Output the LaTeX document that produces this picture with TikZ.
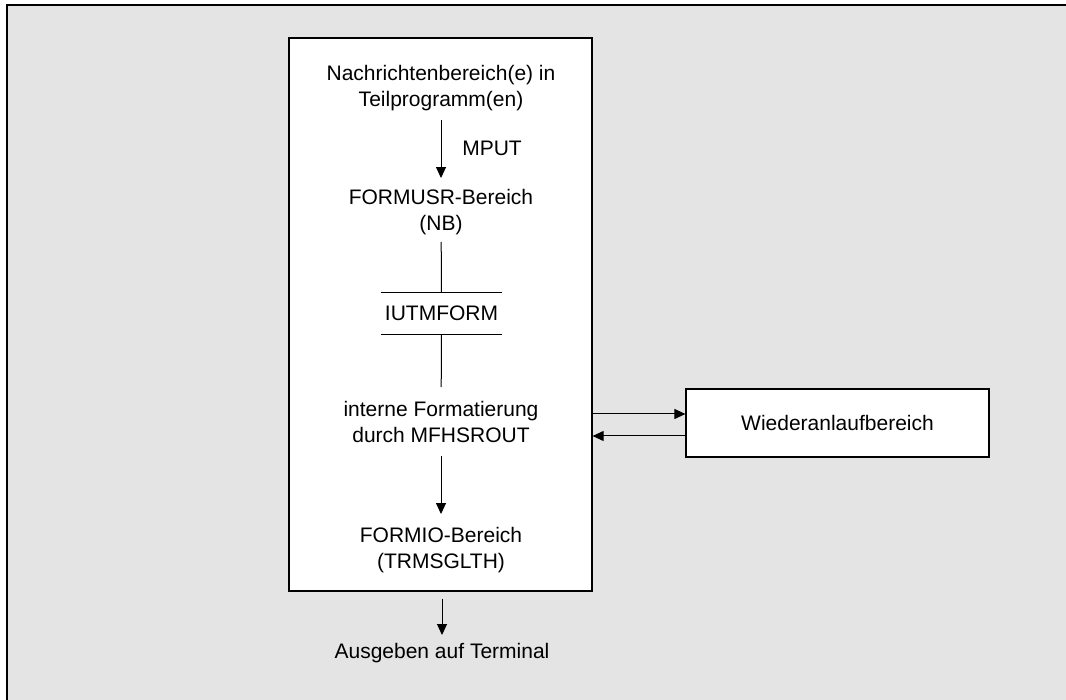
\documentclass[tikz,border=0pt]{standalone}
\usepackage{fontspec}
\setmainfont{Liberation Sans}
\usetikzlibrary{arrows.meta}
\definecolor{bggray}{HTML}{E4E4E4}
\begin{document}
\begin{tikzpicture}[x=1pt,y=-1pt,
  txt/.style={inner sep=0pt, align=center, font=\fontsize{21}{26}\selectfont},
  boxed/.style={draw=black, fill=white, line width=1.2pt, inner sep=0pt},
  arr/.style={line width=1pt, -{Triangle[length=11pt,width=10pt]}},
  plain/.style={line width=1pt}]
\useasboundingbox (0,0) rectangle (1066,700);
\fill[bggray] (7,5) rectangle (1066,700);
\draw[line width=2pt] (7,700) -- (7,5) -- (1066,5);
% boxes
\node[boxed, minimum width=303pt, minimum height=553pt] (main) at (440.5,314.5) {};
\node[boxed, minimum width=303pt, minimum height=68pt] (wb) at (837.5,423) {};
\node[txt] at (wb) {Wiederanlaufbereich};
% texts
\node[txt] (n1) at (441,88) {Nachrichtenbereich(e) in\\Teilprogramm(en)};
\node[txt] (mput) at (492,148) {MPUT};
\node[txt] (n2) at (441,212) {FORMUSR-Bereich\\(NB)};
\node[txt, minimum width=121pt, minimum height=41pt] (iu) at (441.5,313.5) {IUTMFORM};
\draw[plain] (iu.north west) -- (iu.north east);
\draw[plain] (iu.south west) -- (iu.south east);
\node[txt] (n3) at (441,422) {interne Formatierung\\durch MFHSROUT};
\node[txt] (n4) at (441,550) {FORMIO-Bereich\\(TRMSGLTH)};
\node[txt] (n5) at (442,653) {Ausgeben auf Terminal};
% connectors
\draw[arr, shorten <=9pt, shorten >=11pt] (n1) -- (n2);
\draw[plain, shorten <=7pt] (n2) -- (iu.north);
\draw[plain, shorten >=14pt] (iu.south) -- (n3);
\draw[arr, shorten <=13pt, shorten >=13pt] (n3) -- (n4);
\draw[arr, shorten <=7pt, shorten >=8pt] (main.south -| n5.north) -- (n5.north);
\coordinate (r1) at (0,414);
\coordinate (r2) at (0,436);
\draw[arr] (main.east |- r1) -- (wb.west |- r1);
\draw[arr] (wb.west |- r2) -- (main.east |- r2);
\end{tikzpicture}
\end{document}
